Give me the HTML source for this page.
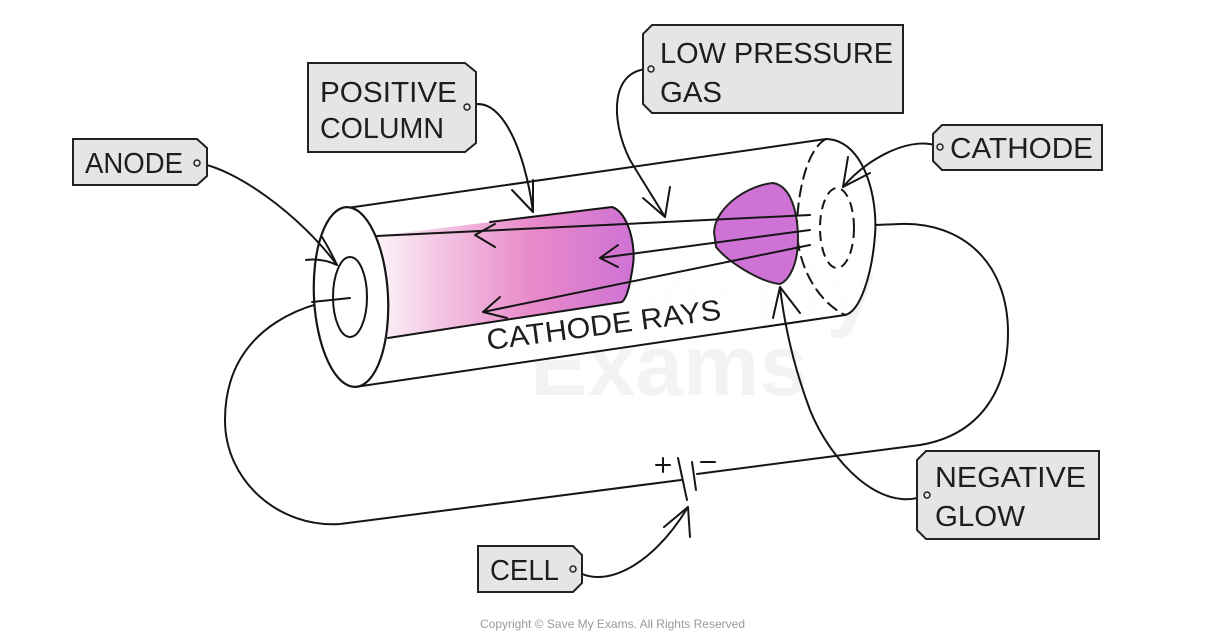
<!DOCTYPE html>
<html>
<head>
<meta charset="utf-8">
<style>
  html,body{margin:0;padding:0;background:#fff;}
  svg{display:block;}
  .lbl{font-family:"Liberation Sans",sans-serif;font-size:29px;fill:#1e1e1e;}
  .box{fill:#e5e5e5;stroke:#222;stroke-width:2;}
  .ln{fill:none;stroke:#151515;stroke-width:2;stroke-linecap:round;stroke-linejoin:round;}
</style>
</head>
<body>
<svg width="1226" height="640" viewBox="0 0 1226 640" xmlns="http://www.w3.org/2000/svg">
  <defs>
    <linearGradient id="pk" x1="377" y1="0" x2="634" y2="0" gradientUnits="userSpaceOnUse">
      <stop offset="0" stop-color="#fdf4fa"/>
      <stop offset="0.2" stop-color="#f5cde6"/>
      <stop offset="0.6" stop-color="#e88ac9"/>
      <stop offset="1" stop-color="#cf72d4"/>
    </linearGradient>
  </defs>

  <!-- faint watermark -->
  <g font-family="Liberation Sans, sans-serif" font-weight="bold" fill="#f3f3f3">
    <text x="530" y="320" font-size="86">Save My</text>
    <text x="530" y="395" font-size="86">Exams</text>
  </g>

  <!-- wires -->
  <path class="ln" d="M350,298 C320,300 225,320 225,420 C225,482 280,528 340,524 L681,480"/>
  <path class="ln" d="M697,474 L920,445 C980,435 1008,390 1008,333 C1008,262 962,222 900,224 L875,225"/>

  <!-- tube body -->
  <path d="M347,208 L826,139 C865,140 878,200 875,235 C872,275 860,312 845,315 L355,387 Z" fill="#fff" fill-opacity="0.85"/>
  <path class="ln" d="M347,208 L826,139"/>
  <path class="ln" d="M355,387 L845,315"/>

  <!-- positive column -->
  <path d="M377,236 L612,207 C628,212 636,245 633,265 C630,285 627,298 622,302 L388,338 C380,310 376,270 377,236 Z" fill="url(#pk)"/>
  <path class="ln" d="M490,222 L612,207 C628,212 636,245 633,265 C630,285 627,298 622,302 L388,338"/>

  <!-- right end -->
  <path class="ln" d="M826,139 C865,140 878,200 875,235 C872,275 860,312 845,315" stroke-width="2.2"/>
  <path class="ln" d="M826,139 C805,150 797,200 797,228 C797,262 815,300 845,315" stroke-dasharray="11,7"/>
  <ellipse cx="837" cy="228" rx="17" ry="40" fill="none" stroke="#151515" stroke-width="2" stroke-dasharray="10,6"/>

  <!-- negative glow -->
  <path d="M714,232 C716,205 750,185 773,183 C792,186 798,215 798,240 C798,262 790,280 780,284 C760,282 728,262 716,247 Z" fill="#cf72d6" stroke="#222" stroke-width="2"/>

  <!-- left end -->
  <ellipse cx="351" cy="297" rx="37" ry="90" transform="rotate(-3 351 297)" fill="#fff" stroke="#151515" stroke-width="2.2"/>
  <ellipse cx="350" cy="297" rx="17" ry="40" fill="#fff" stroke="#151515" stroke-width="2"/>
  <path class="ln" d="M350,298 L312,302"/>

  <!-- cathode rays -->
  <path class="ln" d="M810,215 L377,236"/>
  <path class="ln" d="M495,224 L475,235 L495,247"/>
  <path class="ln" d="M810,230 L600,258"/>
  <path class="ln" d="M618,245 L600,258 L618,267"/>
  <path class="ln" d="M810,245 L483,312"/>
  <path class="ln" d="M500,297 L483,312 L507,318"/>

  <text class="lbl" x="488" y="350" transform="rotate(-7.5 488 350)" textLength="236" lengthAdjust="spacingAndGlyphs">CATHODE RAYS</text>

  <!-- cell -->
  <path class="ln" d="M678,458 L687,500" stroke-width="2"/>
  <path class="ln" d="M692,462 L696,490" stroke-width="4.5"/>
  <path class="ln" d="M656,465 L670,465 M663,458 L663,472" stroke-width="2.2"/>
  <path class="ln" d="M701,462 L715,462" stroke-width="2.2"/>

  <!-- pointer arrows -->
  <path class="ln" d="M197,163 C235,168 300,215 337,265"/>
  <path class="ln" d="M322,237 Q330,250 337,265 M306,260 Q322,258 337,265"/>

  <path class="ln" d="M467,107 C500,90 525,150 533,212"/>
  <path class="ln" d="M512,190 L533,212 L533,180"/>

  <path class="ln" d="M651,69 C610,68 610,120 630,160 C645,185 658,205 665,217"/>
  <path class="ln" d="M643,198 L665,217 L670,187"/>

  <path class="ln" d="M940,147 C915,135 870,155 843,187"/>
  <path class="ln" d="M848,157 L843,187 L870,173"/>

  <path class="ln" d="M927,495 C880,515 830,460 810,410 C795,370 785,330 780,287"/>
  <path class="ln" d="M773,318 L780,287 L800,313"/>

  <path class="ln" d="M574,569 C600,590 650,570 688,507"/>
  <path class="ln" d="M664,527 L688,507 L690,537"/>

  <!-- labels -->
  <polygon class="box" points="73,139 197,139 207,148 207,176 197,185 73,185"/>
  <text class="lbl" x="85" y="173" textLength="98" lengthAdjust="spacingAndGlyphs">ANODE</text>
  <circle cx="197" cy="163" r="3" fill="#e5e5e5" stroke="#222" stroke-width="1.5"/>

  <polygon class="box" points="308,63 465,63 476,72 476,143 465,152 308,152"/>
  <text class="lbl" x="320" y="102" textLength="137" lengthAdjust="spacingAndGlyphs">POSITIVE</text>
  <text class="lbl" x="320" y="138" textLength="124" lengthAdjust="spacingAndGlyphs">COLUMN</text>
  <circle cx="467" cy="107" r="3" fill="#e5e5e5" stroke="#222" stroke-width="1.5"/>

  <polygon class="box" points="652,25 903,25 903,113 652,113 643,104 643,34"/>
  <text class="lbl" x="660" y="63" textLength="233" lengthAdjust="spacingAndGlyphs">LOW PRESSURE</text>
  <text class="lbl" x="660" y="102" textLength="62" lengthAdjust="spacingAndGlyphs">GAS</text>
  <circle cx="651" cy="69" r="3" fill="#e5e5e5" stroke="#222" stroke-width="1.5"/>

  <polygon class="box" points="942,125 1102,125 1102,170 942,170 933,161 933,134"/>
  <text class="lbl" x="950" y="158" textLength="143" lengthAdjust="spacingAndGlyphs">CATHODE</text>
  <circle cx="940" cy="147" r="3" fill="#e5e5e5" stroke="#222" stroke-width="1.5"/>

  <polygon class="box" points="926,451 1099,451 1099,539 926,539 917,530 917,460"/>
  <text class="lbl" x="935" y="487" textLength="151" lengthAdjust="spacingAndGlyphs">NEGATIVE</text>
  <text class="lbl" x="935" y="526" textLength="90" lengthAdjust="spacingAndGlyphs">GLOW</text>
  <circle cx="927" cy="495" r="3" fill="#e5e5e5" stroke="#222" stroke-width="1.5"/>

  <polygon class="box" points="478,546 573,546 582,555 582,583 573,592 478,592"/>
  <text class="lbl" x="490" y="580" textLength="69" lengthAdjust="spacingAndGlyphs">CELL</text>
  <circle cx="573" cy="569" r="3" fill="#e5e5e5" stroke="#222" stroke-width="1.5"/>

  <text x="480" y="628" font-family="Liberation Sans, sans-serif" font-size="12" fill="#9a9a9a" textLength="265" lengthAdjust="spacingAndGlyphs">Copyright © Save My Exams. All Rights Reserved</text>
</svg>
</body>
</html>
